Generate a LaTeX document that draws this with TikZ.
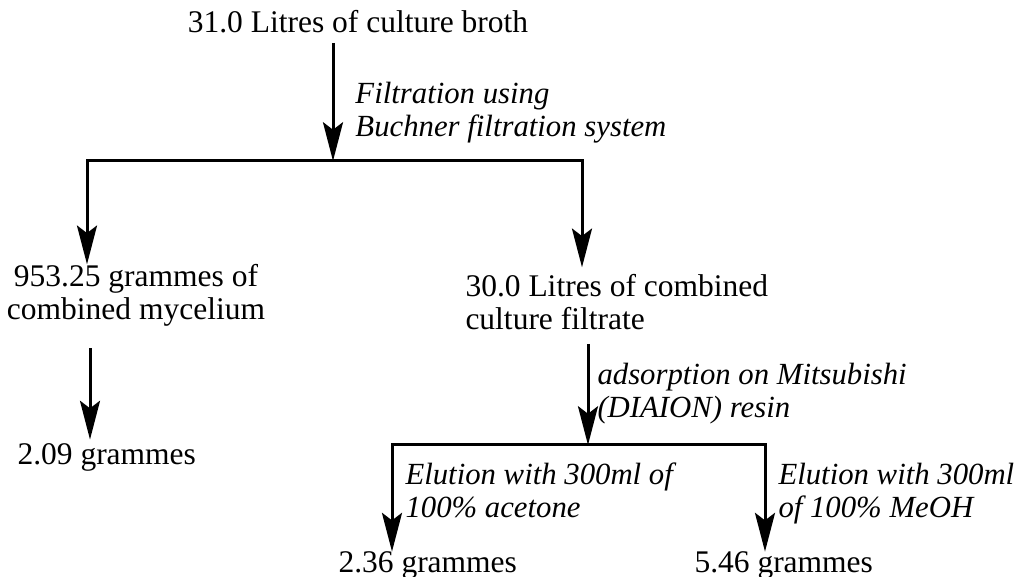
\documentclass[tikz,border=0pt]{standalone}
\usepackage{fontspec}
\setmainfont{Liberation Serif}
\usetikzlibrary{arrows.meta, calc}

\begin{document}
\begin{tikzpicture}[
          x = 0.4pt, y = -0.4pt,
every node/.style = {inner sep=0pt,
                    font=\fontsize{12.6}{13.2}\selectfont},
      stage/.style = {align=center, anchor=base},
       note/.style = {align=left, anchor=base west,
                    font=\fontsize{12.3}{13.2}\selectfont\itshape},
       flow/.style = {line width=1.2pt,
                    -{Stealth[length=15.5pt, width=8pt, inset=3pt]}},
        bar/.style = {line width=1.2pt}
                    ]
\useasboundingbox (0,0) rectangle (1016,577);
  % products (multi-line nodes sit on their last line)
  \node (broth) [stage] at (358,33) {31.0 Litres of culture broth};
  \node (mycel) [stage] at (136,320) {953.25 grammes of\\combined mycelium};
  \node (filtr) [stage, align=left, anchor=base west] at (465,330)
        {30.0 Litres of combined\\culture filtrate};
  \node (myres) [stage, anchor=base west] at (17,465) {2.09 grammes};
  \node (acres) [stage, anchor=base west] at (338,573) {2.36 grammes};
  \node (meres) [stage, anchor=base west] at (694,573) {5.46 grammes};
  % steps
  \node (lfilt) [note] at (355,137) {Filtration using\\Buchner filtration system};
  \node (lads)  [note] at (597,418) {adsorption on Mitsubishi\\(DIAION) resin};
  \node (lacet) [note] at (405,518) {Elution with 300ml of\\100\% acetone};
  \node (lmeoh) [note] at (778,518) {Elution with 300ml\\of 100\% MeOH};
  % splits
  \coordinate (s1)  at (333,161);
  \coordinate (b1l) at (87,161);
  \coordinate (b1r) at (582,161);
  \coordinate (s2)  at (588,445);
  \coordinate (b2l) at (392,445);
  \coordinate (b2r) at (765,445);
    \draw [flow] ([yshift=-3.6pt]broth.south -| s1) -- (s1);
    \draw [flow] (b1r) -| (mycel.north -| b1l);
    \draw [flow] ([yshift=0.6pt]b1r) -- ([yshift=2.8pt]filtr.north -| b1r);
    \draw [flow] ([yshift=-8.4pt]mycel.south -| 90,0) -- ([yshift=1.6pt]myres.north -| 90,0);
    \draw [flow] ([yshift=-5.2pt]filtr.south -| s2) -- (s2);
    \draw [flow] (b2r) -| (acres.north -| b2l);
    \draw [flow] ([yshift=0.6pt]b2r) -- (meres.north -| b2r);
\end{tikzpicture}
\end{document}
